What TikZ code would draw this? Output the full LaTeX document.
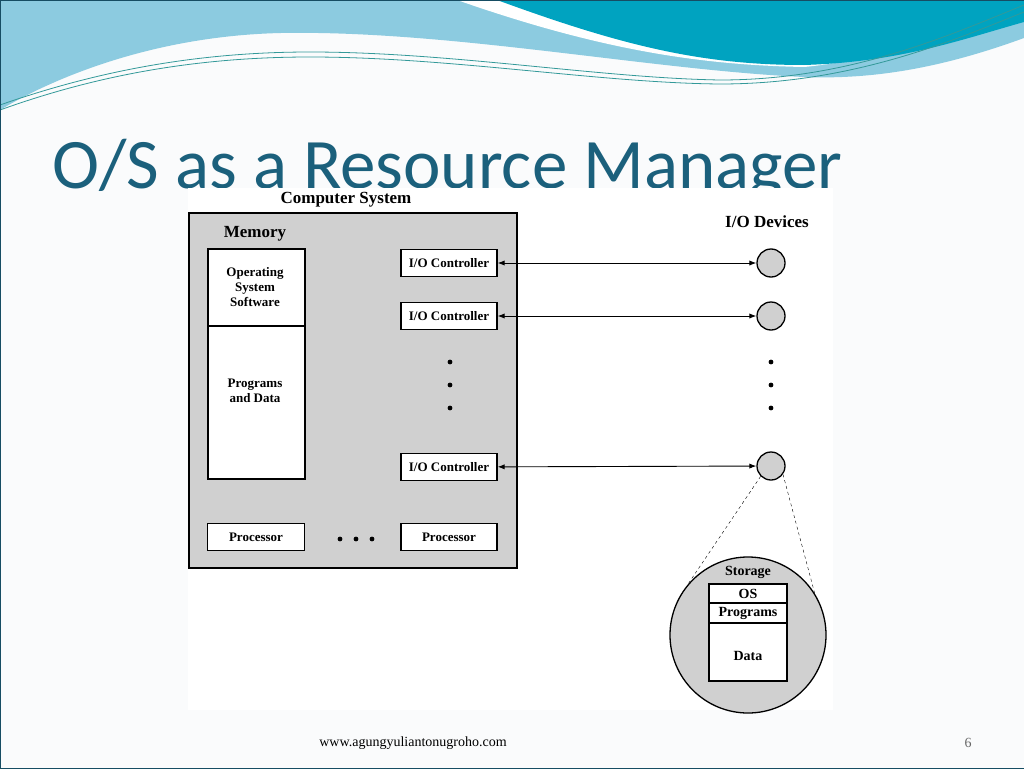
\documentclass[tikz,border=0pt]{standalone}
\usepackage{fontspec}
\setmainfont{Liberation Serif}
\newfontfamily\titlefont{Carlito}
\usetikzlibrary{arrows.meta}
\definecolor{pagebg}{HTML}{FAFBFC}
\definecolor{lightwave}{HTML}{8CCBE0}
\definecolor{tealwave}{HTML}{00A3C0}
\definecolor{titleblue}{HTML}{1B607C}
\definecolor{boxgray}{HTML}{D0D0D0}
\tikzset{
  whitebox/.style={draw,fill=white,line width=1.3pt},
  device/.style={draw,line width=1.3pt,fill=boxgray,circle,minimum size=28pt,inner sep=0pt},
  lbl/.style={font=\fontsize{13}{15}\selectfont\bfseries},
  biglbl/.style={font=\fontsize{17}{19}\selectfont\bfseries},
  link/.style={line width=0.9pt,{Latex[length=7pt]}-{Latex[length=7pt]}},
}
\begin{document}
\begin{tikzpicture}[x=1pt,y=-1pt]
    \useasboundingbox (0,0) rectangle (1024,768);
    \fill[pagebg] (0,0) rectangle (1024,768);

    % banner waves
    \fill[lightwave] (0,0) -- (1024,0) -- (1024,38) .. controls (950,65) and (880,80) .. (804,77)
        .. controls (650,70) and (450,30) .. (281,33) .. controls (150,36) and (50,80) .. (0,110) -- cycle;
    \fill[white] (457,0) .. controls (600,50) and (700,65) .. (804,67) .. controls (880,60) and (950,30) .. (1024,8) -- (1024,0) -- cycle;
    \fill[tealwave] (497,0) .. controls (620,45) and (700,65) .. (804,65) .. controls (900,62) and (960,40) .. (1024,22) -- (1024,0) -- cycle;
    \draw[teal!80,line width=0.8pt] (0,105) .. controls (100,70) and (200,52) .. (310,52) .. controls (450,52) and (600,78) .. (720,80) .. controls (850,80) and (950,35) .. (1024,5);
    \draw[teal!80,line width=0.8pt] (0,110) .. controls (100,74) and (200,57) .. (310,57) .. controls (450,57) and (600,83) .. (720,84) .. controls (850,84) and (950,42) .. (1024,12);
    \draw[titleblue!80!black] (0,0) rectangle (1024,768);

    % title
    \node[anchor=base west,text=titleblue,font=\titlefont\fontsize{71}{73}\selectfont,inner sep=0pt] (title) at (52,188) {O/S as a Resource Manager};

    % diagram
    \fill[white] (188,188) rectangle (833,710);
    \node[biglbl] (cs) at (346,200) {Computer System};
    \draw[line width=1.3pt,fill=boxgray] (189,213) rectangle (517,568);
    \node[biglbl] (mem) at (255,234) {Memory};
    \draw[whitebox] (208,249) rectangle (305,479);
    \draw[line width=1.3pt] (208,326) -- (305,326);
    \node[lbl,align=center] (oss) at (255,287) {Operating\\System\\Software};
    \node[lbl,align=center] (pd) at (255,391) {Programs\\and Data};

    \foreach \n/\y in {c1/263,c2/316,c3/467}
        \node[whitebox,lbl,minimum width=96pt,minimum height=27pt,inner sep=0pt] (\n) at (449,\y) {I/O Controller};
    \node[whitebox,lbl,minimum width=97pt,minimum height=27pt,inner sep=0pt] (p1) at (256,537) {Processor};
    \node[whitebox,lbl,minimum width=96pt,minimum height=27pt,inner sep=0pt] (p2) at (449,537) {Processor};
    \foreach \x in {340,356,372} \fill (\x,539) circle (2.4);
    \foreach \y in {362,385,408} {
        \fill (450,\y) circle (2.4);
        \fill (771,\y) circle (2.4);
    }

    \node[biglbl] (iod) at (767,222) {I/O Devices};
    \node[device] (d1) at (771,263) {};
    \node[device] (d2) at (771,316) {};
    \node[device] (d3) at (771,466) {};
    \draw[link] (c1) -- (d1);
    \draw[link] (c2) -- (d2);
    \draw[link] (c3) -- (d3);

    % storage detail
    \node[draw,line width=1.3pt,fill=boxgray,circle,minimum size=156pt,inner sep=0pt] (st) at (748,635) {};
    \draw[dashed] (d3.225) -- (st.140);
    \draw[dashed] (d3.-35) -- (st.32);
    \node[lbl,font=\fontsize{14}{16}\selectfont\bfseries] (stl) at (748,572) {Storage};
    \draw[whitebox] (709,584) rectangle (787,681);
    \draw[line width=1.3pt] (709,603) -- (787,603) (709,623) -- (787,623);
    \node[lbl,font=\fontsize{14}{16}\selectfont\bfseries] (os) at (748,594) {OS};
    \node[lbl,font=\fontsize{14}{16}\selectfont\bfseries] (prg) at (748,613) {Programs};
    \node[lbl,font=\fontsize{14}{16}\selectfont\bfseries] (dat) at (748,656) {Data};

    % footer
    \node[font=\fontsize{14}{16}\selectfont] (url) at (413,743) {www.agungyuliantonugroho.com};
    \node[font=\fontsize{14}{16}\selectfont,text=gray!80!black] (pg) at (968,743) {6};
\end{tikzpicture}
\end{document}
